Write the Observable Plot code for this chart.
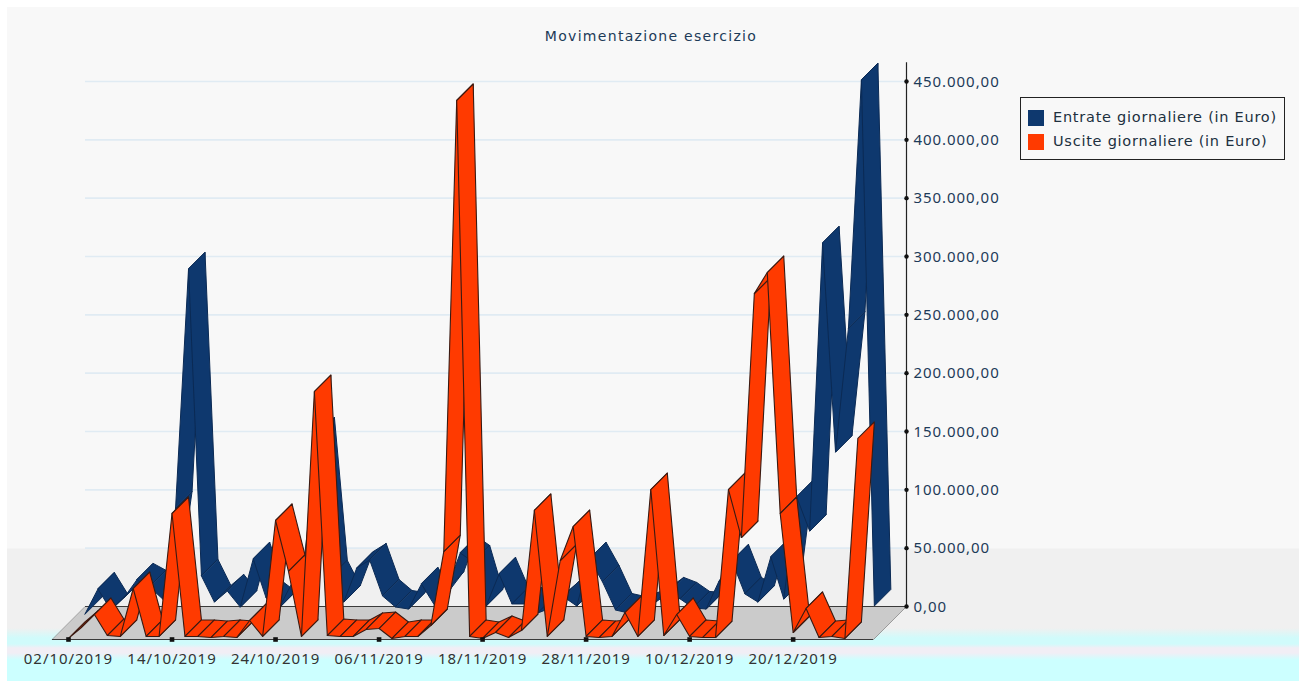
<!DOCTYPE html>
<html lang="it">
<head>
<meta charset="utf-8">
<title>Movimentazione esercizio</title>
<script src="https://cdn.jsdelivr.net/npm/d3@7"></script>
<script src="https://cdn.jsdelivr.net/npm/@observablehq/plot@0.6"></script>
<style>
  html, body { margin: 0; padding: 0; background: #fff; width: 1299px; height: 681px; overflow: hidden; }
  #bg { position: absolute; left: 7px; top: 7px; width: 1292px; height: 674px;
    background: linear-gradient(to bottom,
      #f8f8f8 0, #f8f8f8 541px, #f0f0f0 542px, #f0f0f0 621px,
      #d0fbfb 631px, #d0fbfb 637px, #f1eef5 641px, #f1eef5 646px, #ccffff 653px, #ccffff 674px); }
  #chart { position: absolute; left: 0; top: 0; }
  #chart svg text { letter-spacing: 0.95px; }
  #title { position: absolute; left: 451px; width: 400px; top: 28px; text-align: center;
    font: 14px "DejaVu Sans", sans-serif; letter-spacing: 1.3px; color: #1d3b58; }
  #legend { position: absolute; left: 1020px; top: 97px; width: 265px; height: 63px; box-sizing: border-box;
    border: 1.5px solid #222; font: 14.5px "DejaVu Sans", sans-serif; color: #20303f; letter-spacing: .75px; }
  #legend div { position: absolute; left: 32px; white-space: nowrap; }
  #legend i { position: absolute; left: -25px; top: 1px; width: 16px; height: 16px; }
</style>
</head>
<body>
<div id="bg"></div>
<div id="chart"></div>
<div id="title">Movimentazione esercizio</div>
<div id="legend"></div>
<script>
const seriesNames = ["Entrate giornaliere (in Euro)", "Uscite giornaliere (in Euro)"];
const seriesColors = ["#0e386e", "#ff3a00"];
const dateLabels = ["02/10/2019","14/10/2019","24/10/2019","06/11/2019","18/11/2019","28/11/2019","10/12/2019","20/12/2019"];
const dateTicks = [0, 8, 16, 24, 32, 40, 48, 56];
const valueTicks = [0, 50000, 100000, 150000, 200000, 250000, 300000, 350000, 400000, 450000];
const entrate = [7700,29100,11100,21400,36900,30900,20600,98600,303400,40300,18000,27400,13700,54900,21400,12900,34300,60000,162000,39400,18000,47100,54000,23100,13700,12000,33400,15400,30000,60000,52300,14600,42000,16300,16300,8600,12900,22300,14600,54900,35100,11100,8600,12000,17100,24900,20600,12900,12000,36000,53100,24900,18000,56600,20600,108000,78900,325700,146600,252900,465400,14600];
const uscite = [1000,10300,21400,3400,2600,43700,2600,2600,108000,2600,2600,1700,2600,1700,16300,2600,102000,58300,2600,212500,3400,2600,2600,8600,9400,900,2600,2600,12000,75400,462000,2600,900,6000,1700,7700,110600,2600,67700,96800,2600,1700,2600,23100,2600,128500,3400,21400,2600,1700,1700,128500,87400,296500,314500,108000,6000,26600,1700,2600,900,172300];

const xEnd = 64.76;            // index of the back wall's right edge
const layerX = 1.275;          // depth of one ribbon, x units
const layerY = 14143;          // depth of one ribbon, euro units

function quads(values, layer, name) {
  const out = [];
  for (let i = 0; i < values.length - 1; i++) {
    const id = name + i;
    const fx = layer * layerX, fy = -(2 - layer) * layerY;
    const bx = (layer + 1) * layerX, by = -(1 - layer) * layerY;
    out.push({id, x: i + fx, y: values[i] + fy});
    out.push({id, x: i + 1 + fx, y: values[i + 1] + fy});
    out.push({id, x: i + 1 + bx, y: values[i + 1] + by});
    out.push({id, x: i + bx, y: values[i] + by});
  }
  return out;
}
const floorCorners = [
  {x: -1.236, y: -2 * layerY}, {x: 62.21, y: -2 * layerY},
  {x: xEnd, y: 0}, {x: 1.314, y: 0}
];
const itFormat = new Intl.NumberFormat("it-IT", {minimumFractionDigits: 2, maximumFractionDigits: 2, useGrouping: true});
const fmt = d => d === 0 ? "0,00" : itFormat.format(d);

const plot = Plot.plot({
  width: 1299, height: 681,
  marginLeft: 68, marginRight: 393, marginTop: 81, marginBottom: 75,
  style: {background: "transparent", overflow: "visible"},
  x: {domain: [0, xEnd]},
  y: {domain: [0, 450000]},
  marks: [
    Plot.ruleY(valueTicks.slice(1), {x1: 1.314, x2: xEnd, stroke: "#e0ebf3", strokeWidth: 1.6}),
    Plot.line(floorCorners, {x: "x", y: "y", curve: "linear-closed", fill: "#cbcbcb", stroke: "#8a8a8a", strokeWidth: 0.8}),
    Plot.ruleY([0], {x1: 1.314, x2: xEnd, stroke: "#3a3a3a", strokeWidth: 1}),
    Plot.ruleY([-2 * layerY], {x1: -1.236, x2: 62.21, stroke: "#3a3a3a", strokeWidth: 1}),
    Plot.line(quads(entrate, 1, "e"), {x: "x", y: "y", z: "id", curve: "linear-closed", fill: seriesColors[0], stroke: "#0b2a54", strokeWidth: 1}),
    Plot.line(quads(uscite, 0, "u"), {x: "x", y: "y", z: "id", curve: "linear-closed", fill: seriesColors[1], stroke: "#3a1a12", strokeWidth: 1.1}),
    Plot.ruleX([xEnd], {y1: 0, y2: 466000, stroke: "#222", strokeWidth: 1.2}),
    Plot.dot(valueTicks, {x: () => xEnd, y: d => d, r: 2.2, fill: "#111"}),
    Plot.dot(dateTicks, {x: d => d, y: () => -2 * layerY, symbol: "square", r: 2.6, fill: "#111"}),
    Plot.axisY({anchor: "right", ticks: valueTicks, tickFormat: fmt, tickSize: 0, tickPadding: 7, label: null, fontSize: 15, fill: "#1d3b58", dy: 0.5, textAnchor: "start"}),
    Plot.axisX({anchor: "bottom", ticks: dateTicks, tickFormat: d => dateLabels[dateTicks.indexOf(d)], tickSize: 0, tickPadding: 0, label: null, fontSize: 15, fill: "#333", dy: 47})
  ]
});
document.getElementById("chart").appendChild(plot);

const legend = document.getElementById("legend");
seriesNames.forEach((name, k) => {
  const row = document.createElement("div");
  row.style.top = (11 + k * 23.5) + "px";
  const sw = document.createElement("i");
  sw.style.background = seriesColors[k];
  row.appendChild(sw);
  row.appendChild(document.createTextNode(name));
  legend.appendChild(row);
});
</script>
</body>
</html>
